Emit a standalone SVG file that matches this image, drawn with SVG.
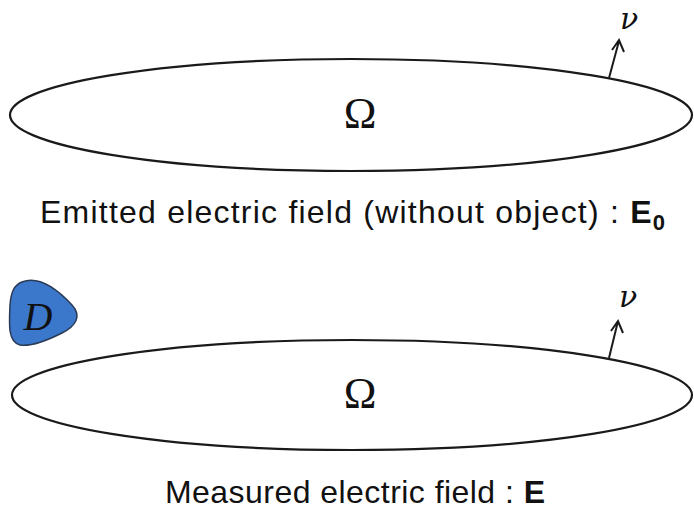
<svg xmlns="http://www.w3.org/2000/svg" width="694" height="516" viewBox="0 0 694 516">
<defs>
<style>
.dom{fill:none;stroke:#1a1a1a;stroke-width:2.2}
.nrm{fill:none;stroke:#1a1a1a;stroke-width:2}
.om{font-family:"Liberation Serif",serif;font-size:44px;fill:#111;text-anchor:middle}
.nu{font-family:"DejaVu Serif",serif;font-style:italic;font-size:30px;fill:#111}
.cap{font-family:"Liberation Sans","DejaVu Sans",sans-serif;font-size:32px;fill:#111}
.bold{font-weight:bold}
</style>
</defs>
<rect width="694" height="516" fill="#fff"/>
<g id="domain1">
<ellipse class="dom" cx="351" cy="115" rx="341" ry="56"/>
<text class="om" x="360" y="128">Ω</text>
</g>
<g id="domain2">
<ellipse class="dom" cx="352" cy="395" rx="340" ry="55"/>
<text class="om" x="360" y="408">Ω</text>
</g>
<g id="object">
<path d="M22,282 C40,275 58,290 72,305 C82,316 76,326 62,333 C48,340 32,347 20,345 C8,342 9,325 10,305 C11,292 14,285 22,282 Z" fill="#3b78cc" stroke="#2a3a55" stroke-width="1.5"/>
<text x="38" y="330" font-family="'Liberation Serif',serif" font-style="italic" font-size="40" fill="#111" text-anchor="middle">D</text>
</g>
<g id="connectors">
<path class="nrm" d="M609,78 L619,41 M612,50 L619,40 L624,52"/>
<text class="nu" x="620" y="29">ν</text>
<path class="nrm" d="M609,358 L618,321 M611,331 L618,321 L623,333"/>
<text class="nu" x="619" y="307">ν</text>
</g>
<g id="captions">
<text class="cap" x="40" y="223" textLength="625" lengthAdjust="spacing">Emitted electric field (without object) :  <tspan class="bold">E</tspan><tspan class="bold" font-size="22" dy="7">0</tspan></text>
<text class="cap" x="165" y="503" textLength="380" lengthAdjust="spacing">Measured electric field :  <tspan class="bold">E</tspan></text>
</g>
</svg>
